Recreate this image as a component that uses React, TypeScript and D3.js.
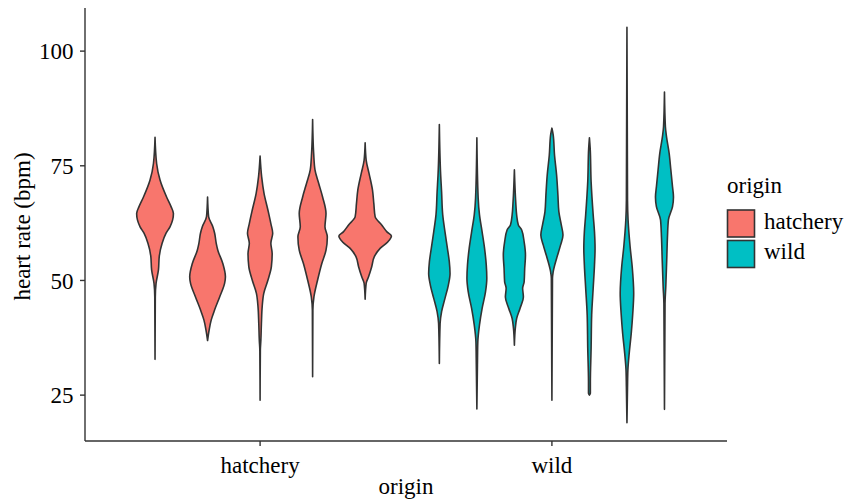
import React, { useRef, useEffect } from 'react';
import * as d3 from 'd3';

// categories
const origins = ['hatchery', 'wild'];
const originColors = ['#F8766D', '#00BFC4'];
const yTicks = [25, 50, 75, 100];

// violin outlines per fish: [heart rate (bpm), relative density]
const hatcheryFish = ['H1', 'H2', 'H3', 'H4', 'H5'];
const h1 = [[81.2, 0], [75.5, 0.06], [71.9, 0.19], [68.2, 0.44], [66.1, 0.61], [64.6, 0.7], [63.2, 0.67], [61.7, 0.57], [60.3, 0.42], [58.1, 0.27], [55.2, 0.16], [52.3, 0.13], [49.4, 0.04], [46.4, 0.01], [32.8, 0]];
const h2 = [[68.2, 0], [63.9, 0.04], [61.7, 0.2], [60.3, 0.27], [58.1, 0.33], [56.6, 0.39], [53.7, 0.58], [50.8, 0.68], [49.4, 0.65], [46.4, 0.46], [43.6, 0.27], [41.4, 0.14], [39.2, 0.06], [36.9, 0]];
const h3 = [[77.1, 0], [72.6, 0.06], [69.0, 0.15], [65.3, 0.3], [62.4, 0.41], [60.3, 0.48], [58.1, 0.41], [55.9, 0.46], [53.0, 0.43], [50.1, 0.3], [47.2, 0.14], [44.3, 0.08], [40.6, 0.05], [37.0, 0.03], [34.8, 0.01], [23.9, 0]];
const h4 = [[85.1, 0], [77.7, 0.04], [74.1, 0.09], [71.2, 0.23], [68.2, 0.38], [64.6, 0.51], [61.7, 0.47], [59.5, 0.56], [56.6, 0.51], [53.7, 0.35], [50.1, 0.19], [46.4, 0.05], [43.6, 0.01], [29.0, 0]];
const h5 = [[80.0, 0], [76.2, 0.04], [73.3, 0.15], [69.7, 0.28], [66.8, 0.33], [63.9, 0.38], [62.1, 0.63], [60.6, 0.83], [59.7, 1.0], [58.4, 0.86], [57.0, 0.57], [55.2, 0.35], [53.0, 0.25], [50.8, 0.13], [49.4, 0.04], [45.9, 0]];
const hatcheryProfiles = [h1, h2, h3, h4, h5];

const wildFish = ['W1', 'W2', 'W3', 'W4', 'W5', 'W6', 'W7'];
const w1 = [[84.0, 0], [73.0, 0.07], [69.3, 0.12], [64.3, 0.18], [60.6, 0.3], [57.0, 0.43], [54.1, 0.53], [51.5, 0.57], [49.0, 0.48], [46.1, 0.3], [43.2, 0.12], [40.6, 0.04], [31.9, 0]];
const w2 = [[81.1, 0], [67.9, 0.07], [64.3, 0.14], [60.6, 0.28], [57.0, 0.41], [53.4, 0.5], [50.5, 0.53], [47.5, 0.46], [43.9, 0.28], [40.3, 0.14], [36.6, 0.05], [31.6, 0.03], [22.0, 0]];
const w3 = [[74.1, 0], [67.2, 0.07], [64.3, 0.12], [62.1, 0.21], [61.0, 0.39], [58.4, 0.52], [55.5, 0.59], [52.6, 0.55], [49.7, 0.52], [48.3, 0.44], [46.4, 0.48], [43.9, 0.3], [41.7, 0.12], [39.6, 0.05], [35.9, 0]];
const w4 = [[83.2, 0], [81.7, 0.07], [77.3, 0.14], [73.0, 0.25], [68.6, 0.32], [65.0, 0.37], [62.1, 0.5], [59.9, 0.59], [57.7, 0.46], [54.8, 0.25], [51.9, 0.07], [50.5, 0.03], [23.9, 0]];
const w5 = [[81.1, 0], [78.8, 0.04], [71.5, 0.09], [64.3, 0.2], [60.6, 0.27], [57.0, 0.3], [53.4, 0.27], [48.3, 0.2], [42.5, 0.12], [35.2, 0.09], [27.9, 0.05], [25.4, 0.05], [25.0, 0]];
const w6 = [[105.2, 0], [67.5, 0.03], [63.2, 0.06], [57.3, 0.17], [53.0, 0.28], [47.2, 0.36], [42.8, 0.31], [38.5, 0.23], [34.1, 0.12], [30.5, 0.05], [26.8, 0.03], [19.0, 0]];
const w7 = [[91.1, 0], [83.5, 0.05], [81.3, 0.11], [77.7, 0.25], [74.1, 0.34], [70.4, 0.43], [68.2, 0.48], [66.1, 0.43], [63.2, 0.21], [59.5, 0.16], [54.4, 0.12], [48.6, 0.07], [45.0, 0.03], [21.9, 0]];
const wildProfiles = [w1, w2, w3, w4, w5, w6, w7];

const fishByOrigin = [hatcheryFish, wildFish];
const profilesByOrigin = [hatcheryProfiles, wildProfiles];

const App: React.FC = () => {
    const svgRef = useRef<SVGSVGElement>(null);

    useEffect(() => {
        if (!svgRef.current) return;

        const width = 848;
        const height = 504;
        const margin = { top: 8, right: 121, bottom: 63, left: 85 };
        const font = '"Liberation Serif", "Times New Roman", serif';
        const ink = '#333333';

        const svg = d3.select(svgRef.current);
        svg.selectAll('*').remove();
        svg.attr('width', width).attr('height', height);

        const y = d3.scaleLinear()
            .domain([15, 109.4])
            .range([height - margin.bottom, margin.top]);

        const x = d3.scalePoint<string>()
            .domain(origins)
            .range([margin.left, width - margin.right])
            .padding(0.6);

        const dodge = x.step() * 0.9;

        // violins
        origins.forEach((o, oi) => {
            const cx = x(o)!;
            const band = d3.scaleBand<string>()
                .domain(fishByOrigin[oi])
                .range([cx - dodge / 2, cx + dodge / 2]);
            const bw = band.bandwidth();

            profilesByOrigin[oi].forEach((prof, i) => {
                const c = band(fishByOrigin[oi][i])! + bw / 2;
                const area = d3.area<number[]>()
                    .curve(d3.curveMonotoneY)
                    .y(d => y(d[0]))
                    .x0(d => c - d[1] * bw / 2)
                    .x1(d => c + d[1] * bw / 2);

                svg.append('path')
                    .attr('d', area(prof))
                    .attr('fill', originColors[oi])
                    .attr('stroke', ink)
                    .attr('stroke-width', 1.6)
                    .attr('stroke-linejoin', 'round');
            });
        });

        // axes
        const axisG = svg.append('g')
            .attr('font-family', font)
            .attr('font-size', 23)
            .attr('fill', '#000');

        axisG.append('line')
            .attr('x1', margin.left).attr('x2', margin.left)
            .attr('y1', margin.top).attr('y2', height - margin.bottom)
            .attr('stroke', ink).attr('stroke-width', 1.4);

        axisG.append('line')
            .attr('x1', margin.left).attr('x2', width - margin.right)
            .attr('y1', height - margin.bottom).attr('y2', height - margin.bottom)
            .attr('stroke', ink).attr('stroke-width', 1.4);

        yTicks.forEach(t => {
            axisG.append('line')
                .attr('x1', margin.left - 5).attr('x2', margin.left)
                .attr('y1', y(t)).attr('y2', y(t))
                .attr('stroke', ink).attr('stroke-width', 1.4);
            axisG.append('text')
                .attr('x', margin.left - 11.5)
                .attr('y', y(t))
                .attr('dy', '0.36em')
                .attr('text-anchor', 'end')
                .text(t);
        });

        origins.forEach(o => {
            axisG.append('line')
                .attr('x1', x(o)!).attr('x2', x(o)!)
                .attr('y1', height - margin.bottom).attr('y2', height - margin.bottom + 5)
                .attr('stroke', ink).attr('stroke-width', 1.4);
            axisG.append('text')
                .attr('x', x(o)!)
                .attr('y', 473)
                .attr('text-anchor', 'middle')
                .text(o);
        });

        axisG.append('text')
            .attr('x', (margin.left + width - margin.right) / 2)
            .attr('y', 494)
            .attr('text-anchor', 'middle')
            .text('origin');

        axisG.append('text')
            .attr('transform', `translate(29.5,${(margin.top + height - margin.bottom) / 2 + 2}) rotate(-90)`)
            .attr('text-anchor', 'middle')
            .text('heart rate (bpm)');

        // legend
        const legend = svg.append('g')
            .attr('font-family', font)
            .attr('font-size', 23);

        legend.append('text')
            .attr('x', 727)
            .attr('y', 193)
            .text('origin');

        origins.forEach((o, i) => {
            legend.append('rect')
                .attr('x', 727.5)
                .attr('y', 210 + i * 30.5)
                .attr('width', 27)
                .attr('height', 27)
                .attr('fill', originColors[i])
                .attr('stroke', ink)
                .attr('stroke-width', 1.6);
            legend.append('text')
                .attr('x', 764)
                .attr('y', 228.5 + i * 30)
                .text(o);
        });
    }, []);

    return (
        <svg ref={svgRef} style={{ position: 'absolute', left: 0, top: 0, display: 'block' }}></svg>
    );
};

export default App;
